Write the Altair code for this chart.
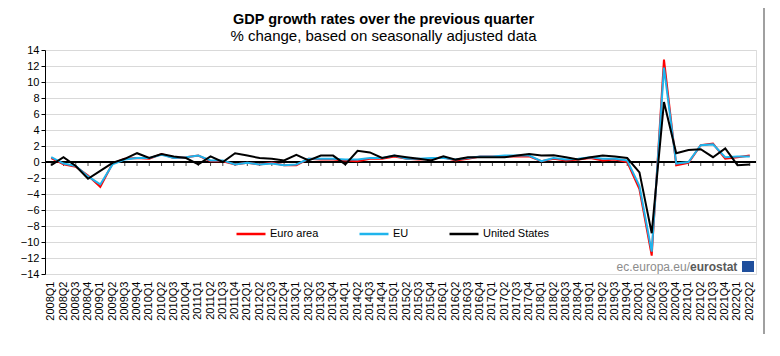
import altair as alt
import pandas as pd

quarters = [f"{y}Q{q}" for y in range(2008, 2023) for q in range(1, 5)][:58]

euro_area = [0.5, -0.3, -0.6, -1.7,
             -3.1, -0.2, 0.4, 0.5,
             0.4, 1.0, 0.5, 0.6,
             0.8, 0.1, 0.1, -0.3,
             -0.1, -0.3, -0.1, -0.4,
             -0.4, 0.4, 0.3, 0.3,
             0.2, 0.1, 0.4, 0.4,
             0.7, 0.4, 0.3, 0.4,
             0.6, 0.2, 0.4, 0.7,
             0.7, 0.7, 0.7, 0.7,
             0.1, 0.4, 0.2, 0.3,
             0.5, 0.2, 0.3, 0.0,
             -3.4, -11.7, 12.8, -0.4,
             -0.1, 2.1, 2.3, 0.4,
             0.6, 0.8]

eu = [0.6, -0.2, -0.5, -1.8,
      -2.8, -0.3, 0.3, 0.5,
      0.5, 0.9, 0.5, 0.6,
      0.8, 0.2, 0.2, -0.3,
      -0.1, -0.3, -0.2, -0.4,
      -0.3, 0.4, 0.4, 0.4,
      0.3, 0.3, 0.5, 0.5,
      0.8, 0.4, 0.4, 0.5,
      0.5, 0.3, 0.5, 0.7,
      0.7, 0.8, 0.8, 0.8,
      0.1, 0.5, 0.3, 0.4,
      0.6, 0.4, 0.4, 0.2,
      -3.0, -11.2, 11.8, -0.2,
      0.0, 2.1, 2.2, 0.6,
      0.7, 0.7]

united_states = [-0.4, 0.6, -0.5, -2.1,
                 -1.1, -0.1, 0.4, 1.1,
                 0.5, 1.0, 0.7, 0.5,
                 -0.3, 0.7, 0.0, 1.1,
                 0.8, 0.5, 0.4, 0.2,
                 0.9, 0.2, 0.8, 0.8,
                 -0.3, 1.4, 1.2, 0.5,
                 0.8, 0.6, 0.4, 0.2,
                 0.7, 0.3, 0.6, 0.6,
                 0.6, 0.6, 0.8, 1.0,
                 0.8, 0.85, 0.6, 0.3,
                 0.6, 0.8, 0.7, 0.5,
                 -1.3, -8.9, 7.5, 1.1,
                 1.5, 1.6, 0.6, 1.7,
                 -0.4, -0.3]

series_names = ["Euro area", "EU", "United States"]
series_colors = ["#ff0000", "#1fb4ec", "#000000"]
y_ticks = list(range(-14, 15, 2))

rows = []
for name, vals in zip(series_names, [euro_area, eu, united_states]):
    for q, v in zip(quarters, vals):
        rows.append({"quarter": q, "series": name, "value": v})
df = pd.DataFrame(rows)

FONT = "Liberation Sans"

x_enc = alt.X("quarter:O", sort=quarters, title=None,
              scale=alt.Scale(padding=0.02),
              axis=alt.Axis(labelAngle=270, labelFontSize=11, labelColor="black",
                            labelFont=FONT, labelPadding=7, ticks=False, domain=False,
                            grid=False, labelOverlap=False, labelFlush=False))
y_enc = alt.Y("value:Q", title=None,
              scale=alt.Scale(domain=[-14, 14], nice=False, zero=False),
              axis=alt.Axis(values=y_ticks, labelFontSize=11, labelColor="black",
                            labelFont=FONT, tickColor="black", tickSize=4,
                            domainColor="black", gridColor="#d9d9d9", labelPadding=2,
                            labelOverlap=False))
color_enc = alt.Color("series:N",
                      scale=alt.Scale(domain=series_names, range=series_colors),
                      legend=alt.Legend(title=None, orient="none", legendX=190, legendY=168,
                                        direction="horizontal", symbolType="stroke",
                                        symbolSize=841, symbolStrokeWidth=2.5,
                                        labelFontSize=11, labelFont=FONT, labelColor="black",
                                        columnPadding=35, labelOffset=3))

base = alt.Chart(df)

zero_df = pd.DataFrame({"quarter": quarters, "value": [0.0] * len(quarters)})

zero_rule = alt.Chart(zero_df).mark_rule(color="black", strokeWidth=1).encode(
    y=y_enc)

ticks = alt.Chart(zero_df).mark_tick(
    orient="vertical", size=4, thickness=1, color="black", yOffset=2).encode(
    x=x_enc, y=y_enc)

lines = []
for name in series_names:
    lines.append(base.transform_filter(alt.datum.series == name).mark_line(
        strokeWidth=2, strokeJoin="miter").encode(x=x_enc, y=y_enc, color=color_enc))

wm1 = alt.Chart(pd.DataFrame({"t": ["ec.europa.eu/"]})).mark_text(
    align="right", baseline="middle", font=FONT, fontSize=12, color="#8c8c8c").encode(
    text="t:N", x=alt.value(645), y=alt.value(217))
wm2 = alt.Chart(pd.DataFrame({"t": ["eurostat"]})).mark_text(
    align="left", baseline="middle", font=FONT, fontSize=12, fontWeight="bold",
    color="#595959").encode(text="t:N", x=alt.value(645), y=alt.value(217))
flag = alt.Chart(pd.DataFrame({"t": ["flag"]})).mark_rect(color="#1f4f9c").encode(
    x=alt.value(697), x2=alt.value(709), y=alt.value(211), y2=alt.value(222))

frame_r = alt.Chart(pd.DataFrame({"t": [1]})).mark_rule(color="#808080", strokeWidth=1.5).encode(
    x=alt.value(719), y=alt.value(-50), y2=alt.value(294))
frame_b = alt.Chart(pd.DataFrame({"t": [1]})).mark_rule(color="#808080", strokeWidth=1.5).encode(
    x=alt.value(-45), x2=alt.value(719), y=alt.value(294))

chart = alt.layer(zero_rule, ticks, *lines, wm1, wm2, flag, frame_r, frame_b).properties(
    width=711, height=224,
    autosize=alt.AutoSizeParams(type="none"),
    padding={"left": 37, "top": 42, "right": 16, "bottom": 60},
    title=alt.TitleParams(
        text="GDP growth rates over the previous quarter",
        subtitle="% change, based on seasonally adjusted data",
        font=FONT, fontSize=14.5, fontWeight="bold", color="black",
        subtitleFont=FONT, subtitleFontSize=15, subtitleColor="black",
        anchor="middle", dx=-17, offset=-46, subtitlePadding=2),
).configure_view(stroke="#a0a0a0", strokeWidth=1).configure(background="white")

chart.save("out.html", embed_options={"renderer": "svg", "actions": False})
